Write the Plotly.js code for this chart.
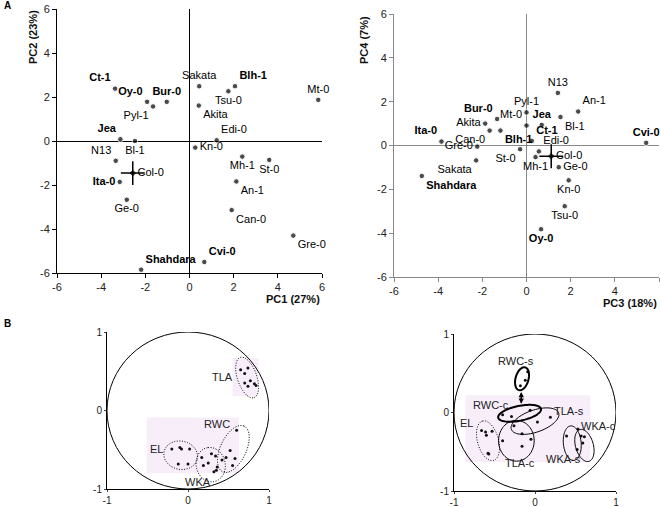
<!DOCTYPE html>
<html>
<head>
<meta charset="utf-8">
<script src="https://cdn.plot.ly/plotly-3.0.1.min.js"></script>
<style>body{margin:0;background:#fff}#chart{width:661px;height:507px}</style>
</head>
<body>
<div id="chart"></div>
<script>
// accessions, same order in both score plots
var accessions = ['Ct-1','Oy-0','Pyl-1','Bur-0','Sakata','Blh-1','Tsu-0','Mt-0','Akita','Edi-0','Jea','Bl-1','Kn-0','N13','Col-0','Ita-0','Ge-0','Mh-1','St-0','An-1','Can-0','Gre-0','Cvi-0','Shahdara'];
var boldNames = ['Ct-1','Oy-0','Bur-0','Blh-1','Jea','Ita-0','Cvi-0','Shahdara'];

var pc1 = [-3.37,-1.92,-1.65,-1.03,0.44,2.06,1.76,5.83,0.42,1.23,-3.13,-2.47,0.26,-3.34,-2.57,-3.16,-2.84,2.39,3.61,2.12,1.91,4.70,0.67,-2.19];
var pc2 = [2.38,1.78,1.57,1.78,2.49,2.49,2.26,1.87,1.61,0.03,0.08,0.00,-0.30,-0.90,-1.46,-1.86,-2.67,-0.71,-0.86,-1.84,-3.14,-4.30,-5.50,-5.85];
var pc3 = [0.24,0.66,0.00,-1.33,-2.28,-1.18,1.73,0.00,-1.87,0.56,0.69,1.54,1.91,1.42,1.12,-3.85,1.46,0.41,-0.29,2.34,-1.67,-2.23,5.42,-4.74];
var pc4 = [0.21,-3.82,1.51,1.21,-0.68,0.68,-2.77,0.91,1.00,-0.27,0.94,1.30,-1.59,2.40,-0.49,0.18,-0.99,-0.53,-0.17,1.55,0.68,-0.05,0.12,-1.39];

var scoreTicks = [-6,-4,-2,0,2,4,6];
var scoreTickText = ['-6','-4','-2','0','2','4','6'];
var loadTicks = [-1,0,1];
var loadTickText = ['-1','0','1'];

// loadings, PC1/PC2 circle
var elX = [-0.20,-0.10,-0.08,0.02,-0.12,0.00];
var elY = [-0.49,-0.47,-0.49,-0.49,-0.68,-0.68];
var wkaX = [0.17,0.25,0.19,0.29,0.34,0.36,0.32,0.35];
var wkaY = [-0.60,-0.67,-0.70,-0.55,-0.58,-0.72,-0.78,-0.76];
var rwcX = [0.60,0.52,0.47,0.58,0.55,0.42];
var rwcY = [-0.25,-0.51,-0.60,-0.61,-0.70,-0.63];
var tlaX = [0.65,0.70,0.74,0.77,0.70,0.74,0.82,0.84];
var tlaY = [0.52,0.47,0.54,0.38,0.35,0.31,0.34,0.32];

// loadings, PC3/PC4 circle
var rwcsX = [-0.09,-0.12,-0.18];
var rwcsY = [0.52,0.41,0.34];
var rwccX = [-0.40,-0.29,-0.06];
var rwccY = [-0.03,-0.05,0.03];
var tlasX = [0.19,0.03,-0.26,-0.16];
var tlasY = [-0.06,-0.12,-0.17,-0.27];
var tlacX = [-0.40,-0.16,-0.05];
var tlacY = [-0.36,-0.43,-0.34];
var el2X = [-0.66,-0.61,-0.60,-0.53,-0.58,-0.57];
var el2Y = [-0.23,-0.25,-0.29,-0.24,-0.52,-0.53];
var wkasX = [0.39,0.53,0.52];
var wkasY = [-0.30,-0.21,-0.47];
var wkacX = [0.57,0.61,0.59];
var wkacY = [-0.30,-0.31,-0.39];

// label placement
var posA = ['top left','top left','bottom left','top center','top center','top right','bottom center','top center','bottom right','top right','top left','bottom center','middle right','top left','middle right','middle left','bottom center','bottom center','bottom center','bottom right','bottom right','bottom right','top right','top right'];
var posB = ['top right','bottom center','top center','top left','bottom left','bottom right','bottom center','top left','middle left','top right','top center','bottom right','bottom center','top center','middle right','top left','middle right','bottom center','bottom left','top right','bottom left','middle left','top center','bottom right'];

var FONT = 'Liberation Sans, Arial, sans-serif';
var DOTTED = '1px,1.6px';

function px(x) { return x / 661; }
function py(y) { return 1 - y / 507; }

var labels = accessions.map(function (n) {
    return boldNames.indexOf(n) >= 0 ? '<b>' + n + '</b>' : n;
});
var refIdx = accessions.indexOf('Col-0');
var symbols = accessions.map(function (n, i) { return i == refIdx ? 'diamond' : 'circle'; });
var sizes = accessions.map(function (n, i) { return i == refIdx ? 6 : 5.5; });

function scoreTrace(x, y, pos, xa, ya) {
    return {
        x: x, y: y, text: labels, textposition: pos, mode: 'markers+text', type: 'scatter',
        xaxis: xa, yaxis: ya, cliponaxis: false, hoverinfo: 'none',
        marker: {color: '#000', size: sizes, symbol: symbols},
        textfont: {family: FONT, size: 11, color: '#000'}
    };
}
// Col-0 reference: thin cross over the small diamond
function refMark(x, y, xa, ya) {
    return {x: [x[refIdx]], y: [y[refIdx]], mode: 'markers', type: 'scatter', xaxis: xa, yaxis: ya,
        hoverinfo: 'none', cliponaxis: false,
        marker: {symbol: 'cross-thin-open', size: 17, color: '#000', line: {color: '#000', width: 1.5}}};
}

function dots(x, y, xa, ya) {
    return {x: x, y: y, mode: 'markers', type: 'scatter', xaxis: xa, yaxis: ya,
        hoverinfo: 'none', marker: {color: '#111', size: 3}};
}

var data = [
    scoreTrace(pc1, pc2, posA, 'x', 'y'),
    refMark(pc1, pc2, 'x', 'y'),
    scoreTrace(pc3, pc4, posB, 'x2', 'y2'),
    refMark(pc3, pc4, 'x2', 'y2'),
    dots(elX, elY, 'x3', 'y3'), dots(wkaX, wkaY, 'x3', 'y3'),
    dots(rwcX, rwcY, 'x3', 'y3'), dots(tlaX, tlaY, 'x3', 'y3'),
    dots(rwcsX, rwcsY, 'x4', 'y4'), dots(rwccX, rwccY, 'x4', 'y4'),
    dots(tlasX, tlasY, 'x4', 'y4'), dots(tlacX, tlacY, 'x4', 'y4'),
    dots(el2X, el2Y, 'x4', 'y4'), dots(wkasX, wkasY, 'x4', 'y4'),
    dots(wkacX, wkacY, 'x4', 'y4')
];

function scoreAxis(dom, anchor, col) {
    return {
        domain: dom, anchor: anchor, range: [-6, 6], tickvals: scoreTicks, ticktext: scoreTickText,
        showline: true, linecolor: col, linewidth: 1, ticks: 'outside', ticklen: 4, tickcolor: col,
        zeroline: true, zerolinecolor: col, zerolinewidth: 1, showgrid: false,
        tickfont: {family: FONT, size: 11, color: '#222'}
    };
}
function loadAxis(dom, anchor) {
    return {
        domain: dom, anchor: anchor, range: [-1, 1], tickvals: loadTicks, ticktext: loadTickText,
        showline: true, linecolor: '#000', linewidth: 1, ticks: 'outside', ticklen: 2,
        zeroline: false, showgrid: false, tickfont: {family: FONT, size: 10, color: '#222'}
    };
}

// ellipse outline as a shape path in data coordinates
function ellipse(xa, ya, cx, cy, a, b, deg, dash, w) {
    var t = deg * Math.PI / 180, d = '';
    for (var i = 0; i <= 72; i++) {
        var s = i / 72 * 2 * Math.PI;
        var ex = cx + a * Math.cos(s) * Math.cos(t) - b * Math.sin(s) * Math.sin(t);
        var ey = cy + a * Math.cos(s) * Math.sin(t) + b * Math.sin(s) * Math.cos(t);
        d += (i == 0 ? 'M' : 'L') + ex.toFixed(4) + ',' + ey.toFixed(4);
    }
    return {type: 'path', xref: xa, yref: ya, path: d + 'Z',
        line: {color: '#000', width: w, dash: dash}};
}
function pinkRect(xa, ya, x0, x1, y0, y1) {
    return {type: 'rect', xref: xa, yref: ya, x0: x0, x1: x1, y0: y0, y1: y1,
        fillcolor: '#f7eefa', line: {width: 0}, layer: 'below'};
}

var shapes = [
    pinkRect('x3', 'y3', 0.55, 0.87, 0.18, 0.67),
    pinkRect('x3', 'y3', -0.51, 0.63, -0.80, -0.09),
    pinkRect('x4', 'y4', -0.86, 0.68, -0.63, 0.22),
    {type: 'circle', xref: 'x3', yref: 'y3', x0: -1, x1: 1, y0: -1, y1: 1, line: {color: '#000', width: 1}},
    {type: 'circle', xref: 'x4', yref: 'y4', x0: -1, x1: 1, y0: -1, y1: 1, line: {color: '#000', width: 1}},
    ellipse('x3', 'y3', 0.73, 0.42, 0.27, 0.12, -72, DOTTED, 1),
    ellipse('x3', 'y3', 0.56, -0.49, 0.32, 0.16, 66, DOTTED, 1),
    ellipse('x3', 'y3', -0.09, -0.57, 0.21, 0.18, -15, DOTTED, 1),
    ellipse('x3', 'y3', 0.28, -0.69, 0.22, 0.18, 100, DOTTED, 1),
    ellipse('x4', 'y4', -0.16, 0.43, 0.15, 0.08, 75, 'solid', 2),
    ellipse('x4', 'y4', -0.19, -0.01, 0.27, 0.094, 12, 'solid', 2),
    ellipse('x4', 'y4', 0.00, -0.11, 0.31, 0.14, 20, 'solid', 1),
    ellipse('x4', 'y4', -0.23, -0.36, 0.26, 0.22, 90, 'solid', 1),
    ellipse('x4', 'y4', -0.58, -0.36, 0.26, 0.13, 105, DOTTED, 1),
    ellipse('x4', 'y4', 0.46, -0.39, 0.22, 0.11, 95, 'solid', 1),
    ellipse('x4', 'y4', 0.61, -0.42, 0.21, 0.11, 105, 'solid', 1)
];

function note(text, x, y, opts) {
    var a = {text: text, x: x, y: y, xref: 'paper', yref: 'paper', showarrow: false,
        xanchor: 'center', yanchor: 'middle',
        font: {family: FONT, size: 11, color: '#111'}};
    for (var k in opts) a[k] = opts[k];
    return a;
}
function groupLabel(text, xa, ya, x, y) {
    return {text: text, x: x, y: y, xref: xa, yref: ya, showarrow: false,
        xanchor: 'center', yanchor: 'middle',
        font: {family: FONT, size: 11, color: '#222'}};
}

var annotations = [
    note('<b>A</b>', px(7), py(6), {font: {family: FONT, size: 10, color: '#000'}}),
    note('<b>B</b>', px(7), py(323), {font: {family: FONT, size: 10, color: '#000'}}),
    note('<b>PC2 (23%)</b>', px(33), py(37), {textangle: -90}),
    note('<b>PC1 (27%)</b>', px(322), py(299), {xanchor: 'right'}),
    note('<b>PC4 (7%)</b>', px(364), py(40), {textangle: -90}),
    note('<b>PC3 (18%)</b>', px(659), py(303), {xanchor: 'right'}),
    groupLabel('TLA', 'x3', 'y3', 0.43, 0.43),
    groupLabel('RWC', 'x3', 'y3', 0.36, -0.17),
    groupLabel('EL', 'x3', 'y3', -0.39, -0.49),
    groupLabel('WKA', 'x3', 'y3', 0.12, -0.91),
    groupLabel('RWC-s', 'x4', 'y4', -0.23, 0.65),
    groupLabel('RWC-c', 'x4', 'y4', -0.54, 0.09),
    groupLabel('TLA-s', 'x4', 'y4', 0.42, 0.02),
    groupLabel('EL', 'x4', 'y4', -0.84, -0.14),
    groupLabel('TLA-c', 'x4', 'y4', -0.19, -0.64),
    groupLabel('WKA-s', 'x4', 'y4', 0.35, -0.59),
    groupLabel('WKA-c', 'x4', 'y4', 0.78, -0.17),
    {x: -0.17, y: 0.11, ax: -0.17, ay: 0.28, xref: 'x4', yref: 'y4', axref: 'x4', ayref: 'y4',
        showarrow: true, text: '', arrowhead: 2, startarrowhead: 2, arrowside: 'end+start',
        arrowwidth: 1.5, arrowsize: 0.7, startarrowsize: 0.7, arrowcolor: '#000'}
];

var layout = {
    width: 661, height: 507, margin: {l: 0, r: 0, t: 0, b: 0},
    paper_bgcolor: '#fff', plot_bgcolor: 'rgba(0,0,0,0)', showlegend: false,
    font: {family: FONT},
    xaxis: scoreAxis([px(57), px(322)], 'y', '#000'),
    yaxis: scoreAxis([py(273), py(9)], 'x', '#000'),
    xaxis2: scoreAxis([px(394), px(659)], 'y2', '#888'),
    yaxis2: scoreAxis([py(277), py(14)], 'x2', '#888'),
    xaxis3: loadAxis([px(107), px(269)], 'y3'),
    yaxis3: loadAxis([py(489), py(332)], 'x3'),
    xaxis4: loadAxis([px(454), px(616)], 'y4'),
    yaxis4: loadAxis([py(491), py(334)], 'x4'),
    shapes: shapes,
    annotations: annotations
};

Plotly.newPlot('chart', data, layout, {displayModeBar: false, staticPlot: true});
</script>
</body>
</html>
